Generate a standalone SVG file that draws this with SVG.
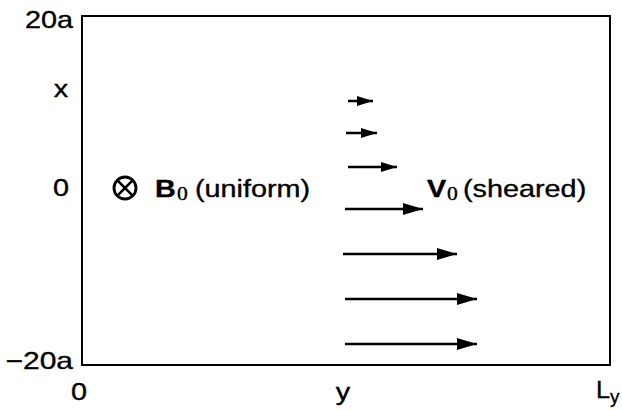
<svg xmlns="http://www.w3.org/2000/svg" width="622" height="410" viewBox="0 0 622 410">
<style>
text{font-family:"Liberation Sans",Arial,sans-serif;font-size:24px;fill:#000;stroke:#000;stroke-width:0.35}
text.sub{font-family:"Liberation Serif","Times New Roman",serif;font-size:18px}
text.ys{font-size:18px}
.ar{stroke:#000;stroke-width:2.5;fill:none}
</style>
<defs>
<marker id="ah" markerUnits="userSpaceOnUse" markerWidth="20" markerHeight="12" refX="20" refY="6" orient="auto">
<path d="M0,0 L20,6 L0,12 Z" fill="#000"/>
</marker>
<marker id="ahs" markerUnits="userSpaceOnUse" markerWidth="16" markerHeight="10" refX="16" refY="5" orient="auto">
<path d="M0,0 L16,5 L0,10 Z" fill="#000"/>
</marker>
</defs>
<rect x="82" y="16" width="528" height="349" fill="none" stroke="#000" stroke-width="2"/>
<g id="axis-labels">
<text transform="translate(73,28) scale(1.2,1)" text-anchor="end">20a</text>
<text transform="translate(61,97) scale(1.2,1)" text-anchor="middle">x</text>
<text transform="translate(61,196) scale(1.2,1)" text-anchor="middle">0</text>
<text transform="translate(73,369) scale(1.25,1)" text-anchor="end">−20a</text>
<text transform="translate(79,400) scale(1.2,1)" text-anchor="middle">0</text>
<text transform="translate(343,400) scale(1.2,1)" text-anchor="middle">y</text>
<text transform="translate(596,398) scale(1.05,1)">L</text>
<text class="ys" transform="translate(610,403) scale(1.05,1)">y</text>
</g>
<g id="B0">
<circle cx="125" cy="188" r="11" fill="none" stroke="#000" stroke-width="2.8"/>
<path d="M117.2,180.2 L132.8,195.8 M132.8,180.2 L117.2,195.8" stroke="#000" stroke-width="2.6"/>
<text transform="translate(155,197) scale(1.2,1)" font-weight="bold">B</text>
<text class="sub" transform="translate(177,200) scale(1.2,1)">0</text>
<text transform="translate(195,197) scale(1.2,1)">(uniform)</text>
</g>
<g id="V0">
<text transform="translate(427,197) scale(1.2,1)" font-weight="bold">V</text>
<text class="sub" transform="translate(447,200) scale(1.2,1)">0</text>
<text transform="translate(463,197) scale(1.2,1)">(sheared)</text>
</g>
<g id="connectors">
<line class="ar" x1="348" y1="101" x2="373" y2="101" marker-end="url(#ahs)"/>
<line class="ar" x1="346" y1="133" x2="377" y2="133" marker-end="url(#ahs)"/>
<line class="ar" x1="348" y1="167" x2="397" y2="167" marker-end="url(#ahs)"/>
<line class="ar" x1="345" y1="209" x2="423" y2="209" marker-end="url(#ah)"/>
<line class="ar" x1="343" y1="254" x2="457" y2="254" marker-end="url(#ah)"/>
<line class="ar" x1="345" y1="299" x2="477" y2="299" marker-end="url(#ah)"/>
<line class="ar" x1="345" y1="344" x2="477" y2="344" marker-end="url(#ah)"/>
</g>
</svg>
